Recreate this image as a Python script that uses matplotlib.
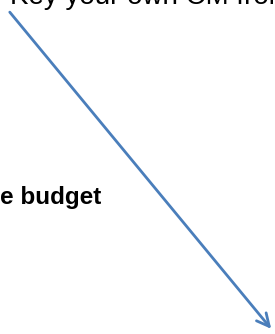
import matplotlib
matplotlib.use("Agg")
import matplotlib.pyplot as plt

W, H = 275, 334
top_text = "Key your own CM from"
label_text = "e budget"
arrow_start = (8, 10)
arrow_end = (273, 331)

fig = plt.figure(figsize=(W / 100, H / 100), dpi=100)
ax = fig.add_axes([0, 0, 1, 1])
ax.set_xlim(0, W)
ax.set_ylim(H, 0)
ax.axis("off")

ax.text(10, 4, top_text, fontsize=20, family="Liberation Sans", va="baseline", ha="left", color="black")
ax.text(0, 204, label_text, fontsize=17.5, family="Liberation Sans", weight="bold", va="baseline", ha="left", color="black")
ax.annotate("", xy=arrow_end, xytext=arrow_start,
            arrowprops=dict(arrowstyle="->,head_length=0.9,head_width=0.45", color="#4A7EBB", lw=2))

fig.savefig("out.png", dpi=100)
